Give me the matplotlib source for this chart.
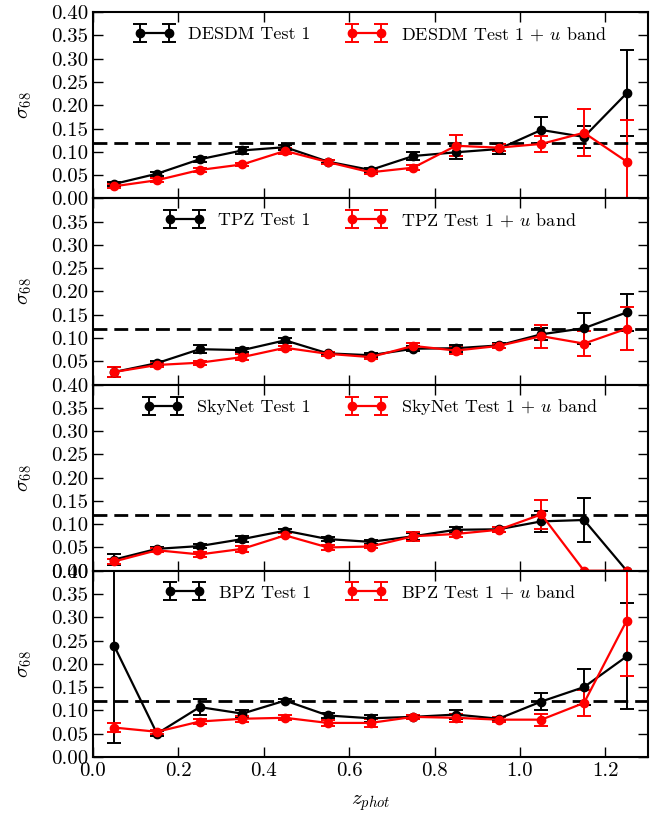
import matplotlib
matplotlib.use("Agg")
import matplotlib.pyplot as plt
import numpy as np

plt.rcParams['font.family'] = 'serif'
plt.rcParams['font.serif'] = ['cmr10']
plt.rcParams['mathtext.fontset'] = 'cm'
plt.rcParams['axes.formatter.use_mathtext'] = True
plt.rcParams['axes.unicode_minus'] = False

z = [0.05, 0.15, 0.25, 0.35, 0.45, 0.55, 0.65, 0.75, 0.85, 0.95, 1.05, 1.15, 1.25]

codes = ["DESDM", "TPZ", "SkyNet", "BPZ"]

base_vals = {
    "DESDM": [0.031, 0.053, 0.084, 0.103, 0.110, 0.079, 0.061, 0.091, 0.099, 0.106, 0.147, 0.132, 0.226],
    "TPZ":   [0.027, 0.046, 0.076, 0.074, 0.095, 0.067, 0.063, 0.077, 0.078, 0.084, 0.108, 0.121, 0.155],
    "SkyNet":[0.024, 0.047, 0.053, 0.068, 0.086, 0.068, 0.062, 0.074, 0.088, 0.089, 0.106, 0.109, 0.0],
    "BPZ":   [0.238, 0.050, 0.107, 0.093, 0.121, 0.089, 0.083, 0.086, 0.091, 0.082, 0.119, 0.150, 0.216],
}
base_errs = {
    "DESDM": [0.004, 0.004, 0.005, 0.007, 0.005, 0.004, 0.004, 0.009, 0.014, 0.011, 0.028, 0.023, 0.093],
    "TPZ":   [0.011, 0.004, 0.008, 0.005, 0.005, 0.004, 0.004, 0.005, 0.007, 0.005, 0.013, 0.033, 0.039],
    "SkyNet":[0.011, 0.004, 0.005, 0.006, 0.004, 0.005, 0.004, 0.008, 0.007, 0.005, 0.023, 0.048, 0.0],
    "BPZ":   [0.209, 0.005, 0.017, 0.007, 0.004, 0.005, 0.008, 0.004, 0.009, 0.004, 0.018, 0.039, 0.114],
}
u_vals = {
    "DESDM": [0.026, 0.039, 0.061, 0.073, 0.102, 0.078, 0.056, 0.066, 0.113, 0.109, 0.117, 0.141, 0.079],
    "TPZ":   [0.027, 0.042, 0.047, 0.059, 0.079, 0.066, 0.059, 0.083, 0.073, 0.083, 0.104, 0.088, 0.120],
    "SkyNet":[0.020, 0.044, 0.035, 0.047, 0.076, 0.050, 0.052, 0.074, 0.079, 0.088, 0.121, 0.0, 0.0],
    "BPZ":   [0.063, 0.054, 0.076, 0.082, 0.084, 0.073, 0.073, 0.086, 0.084, 0.080, 0.080, 0.116, 0.293],
}
u_errs = {
    "DESDM": [0.004, 0.004, 0.004, 0.004, 0.007, 0.004, 0.004, 0.006, 0.023, 0.008, 0.017, 0.051, 0.089],
    "TPZ":   [0.011, 0.004, 0.004, 0.006, 0.004, 0.004, 0.004, 0.007, 0.007, 0.005, 0.025, 0.026, 0.046],
    "SkyNet":[0.006, 0.004, 0.005, 0.006, 0.004, 0.006, 0.004, 0.010, 0.007, 0.005, 0.031, 0.0, 0.0],
    "BPZ":   [0.010, 0.004, 0.005, 0.006, 0.005, 0.006, 0.008, 0.004, 0.008, 0.005, 0.013, 0.028, 0.119],
}
threshold = 0.12
yticks = [0.0, 0.05, 0.10, 0.15, 0.20, 0.25, 0.30, 0.35, 0.40]
xticks = [0.0, 0.2, 0.4, 0.6, 0.8, 1.0, 1.2]

fig, axes = plt.subplots(4, 1, sharex=True, figsize=(6.64, 8.13), dpi=100)
fig.subplots_adjust(left=0.140, right=0.976, top=0.985, bottom=0.069, hspace=0)

for i, (ax, code) in enumerate(zip(axes, codes)):
    ax.errorbar(z, base_vals[code], yerr=base_errs[code], color='k', marker='o',
                ms=6, lw=1.6, elinewidth=1.4, capsize=5, capthick=1.4,
                label=f"{code} Test 1")
    ax.errorbar(z, u_vals[code], yerr=u_errs[code], color='r', marker='o',
                ms=6, mec='r', lw=1.6, elinewidth=1.4, capsize=5, capthick=1.4,
                label=f"{code} Test 1 + $u$ band")
    ax.axhline(threshold, color='k', ls='--', lw=2, dashes=(5, 2.5))
    ax.set_ylim(0, 0.40)
    ax.set_xlim(0, 1.3)
    ax.set_yticks(yticks)
    labels = [f"{t:.2f}" for t in yticks]
    if i == 1:
        labels[0] = ""
        labels[-1] = ""
    ax.set_yticklabels(labels)
    ax.set_xticks(xticks)
    ax.tick_params(direction='in', top=True, right=True, length=7, width=1,
                   labelsize=15)
    for s in ax.spines.values():
        s.set_linewidth(1.5)
    ax.set_ylabel(r"$\sigma_{68}$", fontsize=15, labelpad=12)
    ax.legend(loc='upper center', ncol=2, frameon=False, numpoints=2,
              fontsize=13, handlelength=2.2, columnspacing=2.0,
              borderaxespad=0.3)

axes[-1].set_xticklabels([f"{t:.1f}" for t in xticks])
axes[-1].set_xlabel(r"$z_{phot}$", fontsize=15, labelpad=10)

fig.savefig("out.png", dpi=100)
